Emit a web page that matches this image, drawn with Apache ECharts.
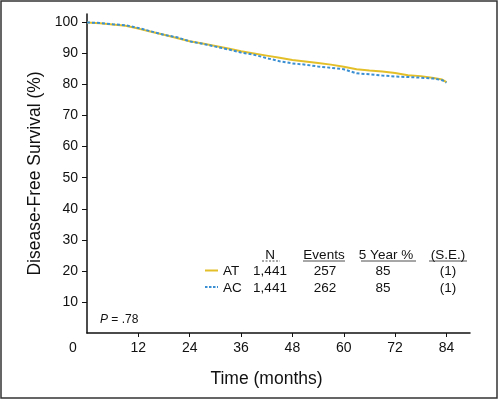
<!DOCTYPE html>
<html><head><meta charset="utf-8">
<script src="https://cdn.jsdelivr.net/npm/echarts@6/dist/echarts.min.js"></script>
<style>html,body{margin:0;padding:0;background:#fff}#c{width:500px;height:400px}</style>
</head><body><div id="c"></div>
<script>
// ---- data ----
const months = [0,3,6,9,12,15,18,21,24,27,30,33,36,39,42,45,48,51,54,57,60,63,66,69,72,75,78,81,83,84];
const atSurvival = [100,99.7,99.3,98.9,98.0,97.0,96.0,95.0,93.9,93.2,92.4,91.6,90.7,90.0,89.3,88.6,87.9,87.4,86.9,86.4,85.7,84.9,84.5,84.2,83.7,83.0,82.7,82.1,81.6,80.8];
const acSurvival = [100,99.8,99.4,99.1,98.2,97.1,96.0,95.2,93.9,93.1,92.2,91.3,90.3,89.6,88.5,87.5,86.8,86.4,85.8,85.4,84.9,83.6,83.3,82.9,82.6,82.4,82.2,81.9,81.4,80.6];
const xTicks = [0,12,24,36,48,60,72,84];
const yTicks = [10,20,30,40,50,60,70,80,90,100];
const armNames = ['AT','AC'];
const armN = ['1,441','1,441'];
const armEvents = ['257','262'];
const armFiveYear = ['85','85'];
const armSE = ['(1)','(1)'];
const tableHeaders = ['N','Events','5 Year %','(S.E.)'];
const pValueText = '= .78';

const colors = ['#e3bf2a','#3a8fd3'];
const sans = "'Liberation Sans',Arial,sans-serif";

const chart = echarts.init(document.getElementById('c'));
const pairs = (ys) => months.map((m,i)=>[m, ys[i]]);

const colX = [270, 324, 386, 448];
const headY = 255, rowY = [271.5, 288];
const graphics = [];
graphics.push({type:'rect', shape:{x:1,y:1,width:496,height:397}, style:{fill:'none', stroke:'#333', lineWidth:1.5}, silent:true});
tableHeaders.forEach((h,i)=>{
  graphics.push({type:'text', x:colX[i], y:headY, style:{text:h, font:'13.5px '+sans, fill:'#111', align:'center', verticalAlign:'middle'}});
});
graphics.push({type:'line', shape:{x1:262,y1:261,x2:280,y2:261}, style:{stroke:'#222', lineWidth:0.8, lineDash:[2,1.5]}});
[[303,345],[361,416],[429,467]].forEach(u=>{
  graphics.push({type:'line', shape:{x1:u[0],y1:261,x2:u[1],y2:261}, style:{stroke:'#222', lineWidth:0.8}});
});
armNames.forEach((nm,r)=>{
  const y = rowY[r];
  graphics.push({type:'line', shape:{x1:205,y1:y-1,x2:218,y2:y-1}, style:{stroke:colors[r], lineWidth:2, lineDash: r===1?[2.5,1.5]:null}});
  graphics.push({type:'text', x:223, y:y, style:{text:nm, font:'13.5px '+sans, fill:'#111', align:'left', verticalAlign:'middle'}});
  [armN[r],armEvents[r],armFiveYear[r],armSE[r]].forEach((v,i)=>{
    const cx = i===2 ? 383 : (i===1 ? 325 : colX[i]);
    graphics.push({type:'text', x:cx, y:y, style:{text:v, font:'13.5px '+sans, fill:'#111', align:'center', verticalAlign:'middle'}});
  });
});
graphics.push({type:'text', x:100, y:320, style:{
  text:'{i|P} {n|'+pValueText+'}', verticalAlign:'middle',
  rich:{i:{fontStyle:'italic', fontSize:12, fontFamily:sans, fill:'#111'}, n:{fontSize:12, fontFamily:sans, fill:'#111'}}
}});

chart.setOption({
  animation:false,
  backgroundColor:'#fff',
  grid:{left:87, right:30, top:14, bottom:67},
  xAxis:{
    type:'value', min:0, max:89.5, interval:12,
    name:'Time (months)', nameLocation:'middle', nameGap:37,
    nameTextStyle:{fontFamily:sans, fontSize:17.5, color:'#111', padding:[0,24,0,0]},
    axisLine:{lineStyle:{color:'#111', width:1.5}},
    axisTick:{show:true, length:4, lineStyle:{color:'#111', width:1}, customValues: xTicks.slice(1)},
    axisLabel:{fontFamily:sans, fontSize:14, color:'#111', margin:8,
      customValues: xTicks,
      formatter:(v)=> v===0 ? '{z|0}' : String(v),
      rich:{z:{fontFamily:sans, fontSize:14, color:'#111', padding:[0,28,0,0]}}},
    splitLine:{show:false}
  },
  yAxis:{
    type:'value', min:0, max:102.7, interval:10,
    name:'Disease-Free Survival (%)', nameLocation:'middle', nameGap:41,
    nameTextStyle:{fontFamily:sans, fontSize:17.5, color:'#111'},
    axisLine:{show:true, lineStyle:{color:'#111', width:1.5}},
    axisTick:{show:true, length:5, lineStyle:{color:'#111', width:1}, customValues: yTicks},
    axisLabel:{fontFamily:sans, fontSize:14, color:'#111', margin:9, customValues: yTicks},
    splitLine:{show:false}
  },
  series:[
    {name:armNames[0], type:'line', data:pairs(atSurvival), showSymbol:false, lineStyle:{color:colors[0], width:2}, z:2},
    {name:armNames[1], type:'line', data:pairs(acSurvival), showSymbol:false, lineStyle:{color:colors[1], width:2, type:[3,2]}, z:3}
  ],
  graphic:graphics
});
</script></body></html>
